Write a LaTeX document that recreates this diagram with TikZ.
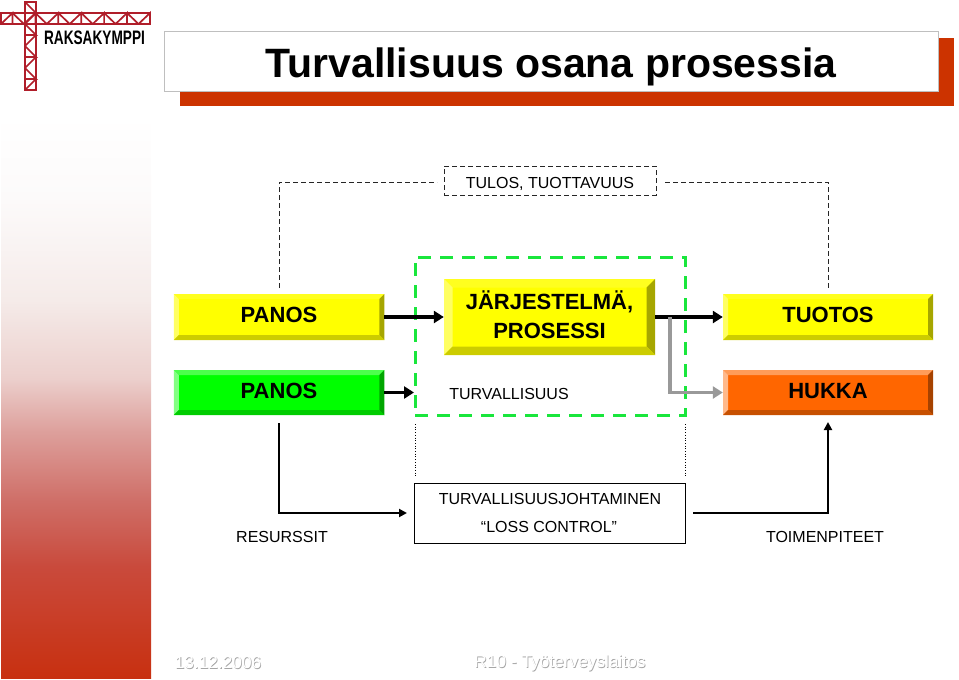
\documentclass[tikz,border=0pt]{standalone}
\usepackage{fontspec}
\setmainfont{Liberation Sans}
\usepackage{tikz}
\usetikzlibrary{positioning, arrows.meta}
\definecolor{qred}{RGB}{204,51,0}
\definecolor{qcrane}{RGB}{176,30,42}
\definecolor{qgreen}{RGB}{25,230,60}
\definecolor{qorange}{RGB}{255,102,0}
\definecolor{qyellow}{RGB}{255,255,0}
\definecolor{qlime}{RGB}{0,255,0}
\definecolor{sa}{HTML}{C83010}
\definecolor{sb}{HTML}{C94A3C}
\definecolor{sc}{HTML}{CF6F68}
\definecolor{sd}{HTML}{DD9F9B}
\definecolor{se}{HTML}{ECD0CD}
\definecolor{sf}{HTML}{F5EBE9}
\definecolor{sg}{HTML}{FCFAFA}
\pgfdeclareverticalshading{sidefade}{100bp}{color(0bp)=(sa); color(25bp)=(sa); color(34.9bp)=(sb);
  color(40.8bp)=(sc); color(46.8bp)=(sd); color(51.7bp)=(se); color(58.6bp)=(sf); color(67.4bp)=(sg);
  color(75bp)=(white); color(100bp)=(white)}

\begin{document}
\begin{tikzpicture}[
  x=1pt, y=-1pt,
  font=\fontsize{16}{19}\selectfont,
  bevel/.style n args={5}{fill=#1, path picture={
    \path (path picture bounding box.north west) coordinate (nw)
          (path picture bounding box.south east) coordinate (se)
          (path picture bounding box.north east) coordinate (ne)
          (path picture bounding box.south west) coordinate (sw);
    \def\bw{#2}
    \fill[#3] (nw) -- (ne) -- ([shift={(-\bw pt,-\bw pt)}]ne) -- ([shift={(\bw pt,-\bw pt)}]nw) -- cycle;
    \fill[#3!70!white] (nw) -- (sw) -- ([shift={(\bw pt,\bw pt)}]sw) -- ([shift={(\bw pt,-\bw pt)}]nw) -- cycle;
    \fill[#4] (ne) -- (se) -- ([shift={(-\bw pt,\bw pt)}]se) -- ([shift={(-\bw pt,-\bw pt)}]ne) -- cycle;
    \fill[#5] (sw) -- (se) -- ([shift={(-\bw pt,\bw pt)}]se) -- ([shift={(\bw pt,\bw pt)}]sw) -- cycle;
  }},
  box/.style={inner sep=0pt, align=center, text depth=4pt, font=\fontsize{22}{29}\selectfont\bfseries},
  ybox/.style={box, bevel={qyellow}{5}{qyellow!88!white}{black!35!qyellow}{black!20!qyellow}},
  gbox/.style={box, bevel={qlime}{5}{qlime!70!white}{black!35!qlime}{black!20!qlime}},
  obox/.style={box, bevel={qorange}{5}{qorange!65!white}{black!35!qorange}{black!22!qorange}},
  barr/.style={-{Triangle[length=10pt, width=12pt]}, black, line width=3.6pt},
  grr/.style={-{Triangle[length=10pt, width=12pt]}, black!40, line width=3.4pt},
  tarr/.style={-{Triangle[length=8pt, width=8pt]}, black, line width=2pt},
  dline/.style={black!85, line width=1pt, dash pattern=on 5pt off 3pt},
  lbl/.style={inner sep=0pt},
  foot/.style={inner sep=0pt, white, font=\fontsize{17.3}{20}\selectfont},
  footsh/.style={foot, black!35, xshift=.8pt, yshift=-.8pt},
]
\useasboundingbox (0,0) rectangle (959,680);
\shade[shading=sidefade] (1,115) rectangle (151,678);

% logo
\foreach \i in {0,...,12} {
  \pgfmathsetmacro{\xa}{1+11.46*\i}
  \pgfmathsetmacro{\xb}{\xa+11.46}
  \ifodd\i
    \draw[qcrane, line width=1.7pt] (\xa,13) -- (\xb,24);
  \else
    \draw[qcrane, line width=1.7pt] (\xa,24) -- (\xb,13) -- (\xb,24);
  \fi
}
\foreach \i in {0,...,7} {
  \pgfmathsetmacro{\ya}{2+11*\i}
  \pgfmathsetmacro{\yb}{\ya+11}
  \ifodd\i
    \draw[qcrane, line width=1.7pt] (36,\ya) -- (25,\yb);
  \else
    \draw[qcrane, line width=1.7pt] (25,\ya) -- (36,\yb) -- (25,\yb);
  \fi
}
\draw[qcrane, line width=2pt] (1,13) rectangle (150,24) (25,2) rectangle (36,90);
\node[lbl, font=\fontsize{19.5}{20}\selectfont\bfseries] (logo) at (94.5,38) {\scalebox{.70}[1]{RAKSAKYMPPI}};

% title
\fill[qred] (180,38) rectangle (954,106);
\node[draw=black!25, fill=white, line width=1pt, minimum width=774pt, minimum height=60pt, inner sep=0pt,
      text height=40pt, text depth=8.6pt,
      font=\fontsize{41}{45}\selectfont\bfseries] (title) at (551,61.5) {Turvallisuus osana prosessia};

% boxes
\node[ybox, minimum width=210.5pt, minimum height=46pt] (panos1) at (279,317) {PANOS};
\node[gbox, minimum width=210.5pt, minimum height=45pt] (panos2) at (279,392.5) {PANOS};
\node[ybox, bevel={qyellow}{8.5}{qyellow!88!white}{black!35!qyellow}{black!20!qyellow}, text depth=5pt,
      minimum width=211pt, minimum height=76pt] (jarj) at (549.5,317) {JÄRJESTELMÄ,\\PROSESSI};
\node[ybox, minimum width=210pt, minimum height=46pt] (tuotos) at (828,317) {TUOTOS};
\node[obox, minimum width=210pt, minimum height=45pt] (hukka) at (828,392.5) {HUKKA};

\node[lbl] (turv) at (509,394) {TURVALLISUUS};
\node[draw=qgreen, line width=3pt, dash pattern=on 13pt off 9pt, minimum width=270pt, minimum height=158pt] (sys) at (550,336) {};
\node[draw=black!85, dash pattern=on 5pt off 3pt, line width=1pt, minimum width=212pt, minimum height=29pt, inner sep=0pt,
      text height=18pt, text depth=2pt] (tulos) at (550,180.5) {TULOS, TUOTTAVUUS};
\node[draw=black, line width=1pt, minimum width=271pt, minimum height=60pt, align=center, inner sep=0pt] (loss) at (550,513) {};
\node[lbl] (lossa) at (550,499) {TURVALLISUUSJOHTAMINEN};
\node[lbl] (lossb) at (549,527) {“LOSS CONTROL”};
\node[lbl] (res) at (282,537) {RESURSSIT};
\node[lbl] (toim) at (825,537) {TOIMENPITEET};

% connectors
\coordinate (a1) at (437,182);
\coordinate (a2) at (665,182);
\draw[dline] (279,288) |- (a1);
\draw[dline] (a2) -| (828,288);
\draw[barr] (panos1) -- (jarj.west |- panos1);
\coordinate (a3) at (414,392.5);
\draw[barr] (panos2) -- (a3);
\draw[barr] (jarj) -- (tuotos);
\draw[grr] (670,317) |- (hukka);
\coordinate (a4) at (407,513);
\coordinate (a5) at (693,513);
\draw[tarr] (279,423) |- (a4);
\draw[tarr] (a5) -| (828,422);
\draw[black, dotted, line width=.7pt] (415,424) -- (415,476) (685,424) -- (685,476);

% footer
\node[footsh] (dates) at (218,663) {13.12.2006};
\node[foot] (date) at (218,663) {13.12.2006};
\node[footsh] (orgs) at (560,663) {R10 - Työterveyslaitos};
\node[foot] (org) at (560,663) {R10 - Työterveyslaitos};
\end{tikzpicture}
\end{document}
